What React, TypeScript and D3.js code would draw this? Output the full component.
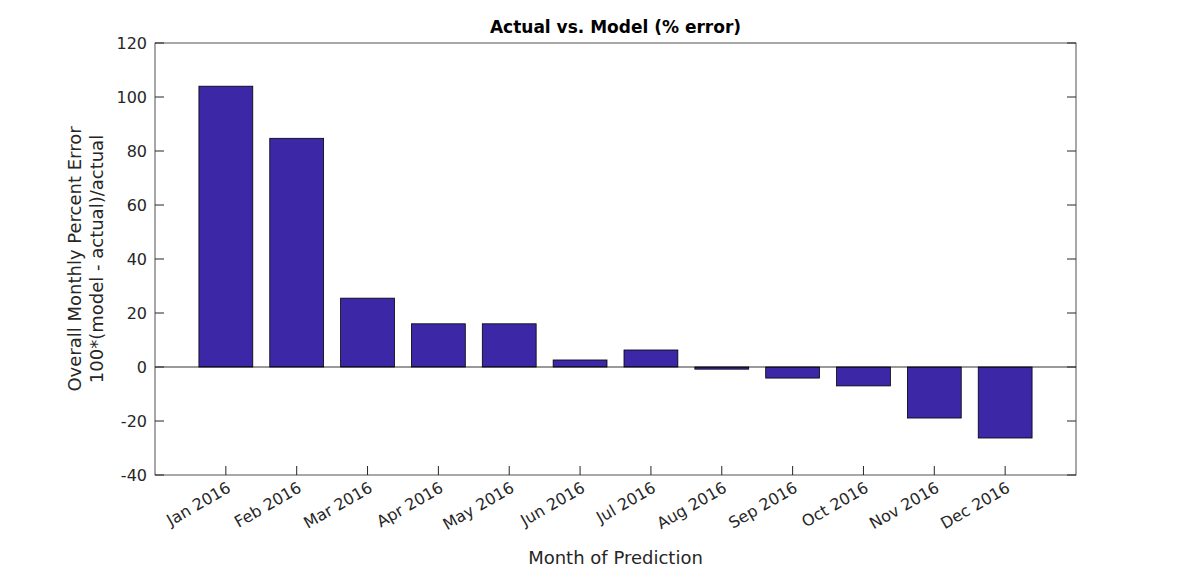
import React from 'react';
import * as d3 from 'd3';

const months = ['Jan 2016', 'Feb 2016', 'Mar 2016', 'Apr 2016', 'May 2016', 'Jun 2016',
  'Jul 2016', 'Aug 2016', 'Sep 2016', 'Oct 2016', 'Nov 2016', 'Dec 2016'];
const pctError = [104, 84.7, 25.5, 16, 16, 2.6, 6.3, -0.8, -4.1, -7, -18.9, -26.3];
const yTicks = [-40, -20, 0, 20, 40, 60, 80, 100, 120];

const width = 1190;
const height = 570;
const margin = { top: 43, right: 114, bottom: 95, left: 155 };

export default function App() {
  const x = d3.scaleLinear().domain([0, 13]).range([margin.left, width - margin.right]);
  const y = d3.scaleLinear().domain([-40, 120]).range([height - margin.bottom, margin.top]);
  const barW = (x(1) - x(0)) * 0.76;
  const font = 'DejaVu Sans, sans-serif';
  const x0 = margin.left, x1 = width - margin.right, y0 = margin.top, y1 = height - margin.bottom;

  return (
    <svg width={width} height={height} style={{ position: 'absolute', left: 0, top: 0, background: '#fff' }}
      fontFamily={font}>
      <rect width={width} height={height} fill="#fff" />
      <rect x={x0} y={y0} width={x1 - x0} height={y1 - y0} fill="#fff" />
      {pctError.map((v, i) => (
        <rect key={i} x={x(i + 1) - barW / 2} y={y(Math.max(0, v))} width={barW}
          height={Math.abs(y(v) - y(0))} fill="#3C28A6" stroke="#000" strokeWidth={0.8} />
      ))}
      <line x1={x0} x2={x1} y1={y(0)} y2={y(0)} stroke="#000" strokeWidth={0.8} />
      <rect x={x0} y={y0} width={x1 - x0} height={y1 - y0} fill="none" stroke="#262626" strokeWidth={0.8} />
      {yTicks.map(t => (
        <g key={t}>
          <line x1={x0} x2={x0 + 9} y1={y(t)} y2={y(t)} stroke="#262626" />
          <line x1={x1} x2={x1 - 9} y1={y(t)} y2={y(t)} stroke="#262626" />
          <text x={x0 - 8} y={y(t) + 6} textAnchor="end" fontSize={16} fill="#262626">{t}</text>
        </g>
      ))}
      {months.map((m, i) => (
        <g key={m}>
          <line x1={x(i + 1)} x2={x(i + 1)} y1={y1} y2={y1 - 9} stroke="#262626" />
          <text transform={`translate(${x(i + 1) + 6},${y1 + 16}) rotate(-30)`} textAnchor="end"
            fontSize={16} fill="#262626">{m}</text>
        </g>
      ))}
      <text x={(x0 + x1) / 2} y={33} textAnchor="middle" fontSize={17} fontWeight="bold" fill="#000">
        Actual vs. Model (% error)
      </text>
      <text x={(x0 + x1) / 2} y={564} textAnchor="middle" fontSize={18} fill="#262626">Month of Prediction</text>
      <text transform={`translate(81,${(y0 + y1) / 2}) rotate(-90)`} textAnchor="middle" fontSize={18} fill="#262626">
        Overall Monthly Percent Error
      </text>
      <text transform={`translate(103,${(y0 + y1) / 2}) rotate(-90)`} textAnchor="middle" fontSize={18} fill="#262626">
        100*(model - actual)/actual
      </text>
    </svg>
  );
}
